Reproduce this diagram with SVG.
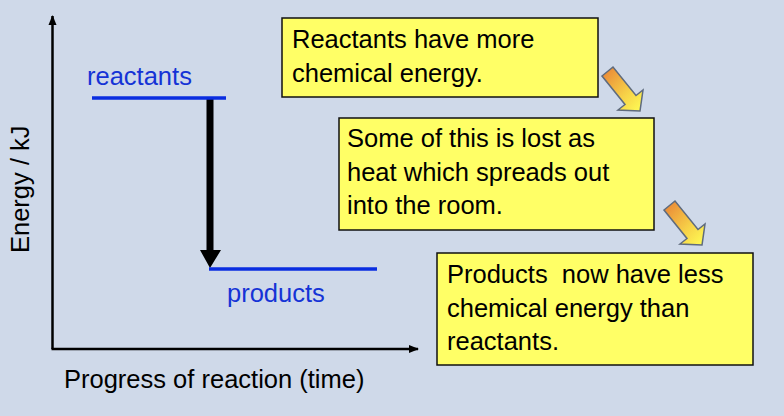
<svg xmlns="http://www.w3.org/2000/svg" width="784" height="416" viewBox="0 0 784 416">
<defs>
<style>
.t{font-family:"Liberation Sans",Arial,sans-serif;font-size:25.5px;fill:#000}
.b{font-family:"Liberation Sans",Arial,sans-serif;font-size:25.5px;fill:#1533d6}
.box{fill:#ffff66;stroke:#111;stroke-width:1.5}
.lvl{stroke:#0a2de0;stroke-width:3.5}
.ax{stroke:#000;stroke-width:2.5;fill:none}
.ga{fill:url(#g);stroke:#5f6b7d;stroke-width:1.5;stroke-linejoin:miter}
</style>
<linearGradient id="g" x1="0" y1="0" x2="1" y2="1">
<stop offset="0" stop-color="#e87f35"/>
<stop offset="0.6" stop-color="#f7d248"/>
<stop offset="1" stop-color="#ffff55"/>
</linearGradient>
<marker id="ah" markerWidth="10" markerHeight="10" refX="9" refY="5" orient="auto" markerUnits="userSpaceOnUse">
<path d="M0,1 L10,5 L0,9 Z" fill="#000"/>
</marker>
</defs>
<rect width="784" height="416" fill="#cfd9e9"/>
<g id="connectors">
<line class="ax" x1="52.5" y1="349" x2="52.5" y2="16" marker-end="url(#ah)"/>
<line class="ax" x1="51.5" y1="349" x2="418" y2="349" marker-end="url(#ah)"/>
<path d="M206.5,98 L213.5,98 L213.5,250 L221,250 L210,268 L200,250 L206.5,250 Z" fill="#000"/>
<polygon class="ga" points="602,76 613,67 636,95.5 643,90 640,111 618,110 625,104.5"/>
<polygon class="ga" points="664,210 675,201 698,229.5 705,224 702,245 680,244 687,238.5"/>
</g>
<g id="reactants">
<line class="lvl" x1="92" y1="98" x2="226" y2="98"/>
<text class="b" x="87" y="85">reactants</text>
</g>
<g id="products">
<line class="lvl" x1="209" y1="269" x2="377" y2="269"/>
<text class="b" x="227" y="302">products</text>
</g>
<g id="y-label">
<text class="t" transform="translate(29,253) rotate(-90)">Energy / kJ</text>
</g>
<g id="x-label">
<text class="t" x="64" y="388">Progress of reaction (time)</text>
</g>
<g id="box1">
<rect class="box" x="282" y="18" width="316" height="79"/>
<text class="t" x="292" y="48">Reactants have more</text>
<text class="t" x="292" y="82">chemical energy.</text>
</g>
<g id="box2">
<rect class="box" x="339" y="118" width="315" height="112"/>
<text class="t" x="347" y="147">Some of this is lost as</text>
<text class="t" x="347" y="181">heat which spreads out</text>
<text class="t" x="347" y="214">into the room.</text>
</g>
<g id="box3">
<rect class="box" x="437" y="253" width="316" height="112"/>
<text class="t" x="447" y="283" xml:space="preserve">Products  now have less</text>
<text class="t" x="447" y="317">chemical energy than</text>
<text class="t" x="447" y="350">reactants.</text>
</g>
</svg>
